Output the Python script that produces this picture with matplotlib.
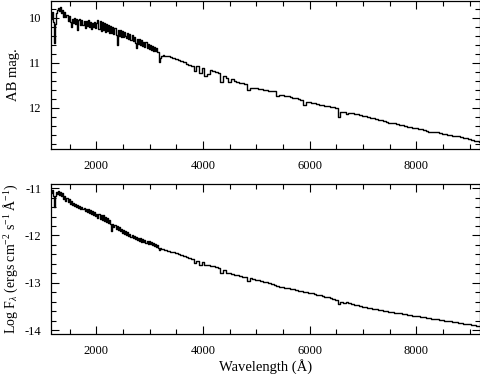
import numpy as np
import matplotlib
matplotlib.use("Agg")
import matplotlib.pyplot as plt
from matplotlib.ticker import MultipleLocator

plt.rcParams['font.family'] = ['Liberation Serif', 'DejaVu Serif']
plt.rcParams['mathtext.fontset'] = 'custom'
plt.rcParams['mathtext.rm'] = 'Liberation Serif'
plt.rcParams['mathtext.it'] = 'Liberation Serif:italic'
plt.rcParams['axes.unicode_minus'] = False

# ---------------- data ----------------
uv_wave = np.arange(1150, 3300, 20)        # UV sampling grid (Å)
opt_wave = np.arange(3300, 9201, 50)       # optical sampling grid (Å)

ab_mag_uv = [
    10.02, 9.88, 10.10, 10.56, 10.15, 9.90, 9.84, 9.78, 9.86, 9.77,
    9.90, 9.82, 9.99, 9.88, 9.98, 9.94, 10.08, 9.96, 10.10, 10.20,
    10.02, 10.12, 10.01, 10.15, 10.04, 10.27, 10.06, 10.04, 10.17, 10.05,
    10.16, 10.07, 10.23, 10.08, 10.18, 10.06, 10.20, 10.09, 10.26, 10.11,
    10.21, 10.10, 10.24, 10.12, 10.05, 10.25, 10.07, 10.30, 10.09, 10.28,
    10.12, 10.32, 10.14, 10.29, 10.16, 10.35, 10.19, 10.33, 10.21, 10.37,
    10.24, 10.39, 10.60, 10.27, 10.40, 10.27, 10.42, 10.30, 10.44, 10.32,
    10.41, 10.46, 10.33, 10.48, 10.36, 10.50, 10.38, 10.52, 10.42, 10.56,
    10.67, 10.47, 10.58, 10.48, 10.61, 10.50, 10.63, 10.53, 10.66, 10.55,
    10.68, 10.58, 10.70, 10.60, 10.71, 10.63, 10.73, 10.66, 10.74, 10.68,
    10.76, 10.76, 10.98, 10.90, 10.86, 10.84, 10.86, 10.85,
]

ab_mag_opt = [
    10.85, 10.86, 10.88, 10.90, 10.92, 10.95, 10.96, 10.99, 11.03, 11.06,
    11.07, 11.18, 11.08, 11.22, 11.12, 11.30, 11.26, 11.16, 11.18, 11.20,
    11.22, 11.44, 11.30, 11.35, 11.44, 11.37, 11.40, 11.44, 11.46, 11.45,
    11.47, 11.60, 11.56, 11.57, 11.57, 11.58, 11.59, 11.60, 11.61, 11.62,
    11.63, 11.64, 11.75, 11.71, 11.72, 11.73, 11.75, 11.76, 11.78, 11.79,
    11.81, 11.83, 11.93, 11.87, 11.88, 11.89, 11.90, 11.92, 11.93, 11.95,
    11.96, 11.97, 11.98, 11.99, 12.01, 12.20, 12.10, 12.09, 12.15, 12.11,
    12.12, 12.13, 12.14, 12.16, 12.18, 12.19, 12.21, 12.22, 12.24, 12.25,
    12.27, 12.28, 12.30, 12.31, 12.33, 12.34, 12.35, 12.37, 12.38, 12.39,
    12.41, 12.42, 12.43, 12.45, 12.46, 12.47, 12.48, 12.50, 12.51, 12.53,
    12.53, 12.54, 12.55, 12.57, 12.58, 12.59, 12.60, 12.61, 12.62, 12.63,
    12.64, 12.65, 12.67, 12.68, 12.69, 12.71, 12.73, 12.75, 12.76,
]

logf_uv = [
    -11.10, -11.04, -11.17, -11.40, -11.16, -11.08, -11.13, -11.06, -11.14, -11.09,
    -11.17, -11.11, -11.22, -11.17, -11.26, -11.20, -11.29, -11.23, -11.33, -11.27,
    -11.35, -11.32, -11.37, -11.34, -11.39, -11.35, -11.42, -11.37, -11.44, -11.40,
    -11.45, -11.41, -11.48, -11.44, -11.50, -11.45, -11.52, -11.47, -11.54, -11.49,
    -11.56, -11.51, -11.59, -11.55, -11.62, -11.54, -11.65, -11.57, -11.67, -11.56,
    -11.69, -11.60, -11.71, -11.63, -11.73, -11.68, -11.76, -11.90, -11.75, -11.82,
    -11.77, -11.86, -11.80, -11.88, -11.83, -11.91, -11.86, -11.94, -11.88, -11.96,
    -11.91, -11.99, -11.93, -12.01, -11.96, -12.03, -11.98, -12.06, -12.01, -12.08,
    -12.03, -12.10, -12.05, -12.11, -12.06, -12.13, -12.08, -12.14, -12.09, -12.16,
    -12.11, -12.17, -12.12, -12.19, -12.14, -12.21, -12.16, -12.23, -12.18, -12.25,
    -12.20, -12.27, -12.31, -12.26, -12.29, -12.28, -12.31, -12.30,
]

logf_opt = [
    -12.31, -12.33, -12.34, -12.35, -12.37, -12.39, -12.42, -12.43, -12.45, -12.48,
    -12.50, -12.58, -12.53, -12.62, -12.57, -12.63, -12.62, -12.64, -12.65, -12.66,
    -12.68, -12.79, -12.74, -12.79, -12.80, -12.81, -12.83, -12.84, -12.86, -12.87,
    -12.88, -12.96, -12.91, -12.92, -12.94, -12.95, -12.97, -12.98, -12.99, -13.01,
    -13.02, -13.04, -13.07, -13.08, -13.10, -13.11, -13.12, -13.13, -13.14, -13.15,
    -13.17, -13.18, -13.20, -13.20, -13.21, -13.22, -13.23, -13.25, -13.26, -13.28,
    -13.30, -13.31, -13.32, -13.34, -13.36, -13.44, -13.40, -13.42, -13.41, -13.43,
    -13.45, -13.47, -13.48, -13.49, -13.51, -13.52, -13.53, -13.54, -13.55, -13.56,
    -13.57, -13.58, -13.59, -13.60, -13.61, -13.62, -13.63, -13.64, -13.65, -13.66,
    -13.67, -13.68, -13.69, -13.70, -13.70, -13.71, -13.72, -13.73, -13.74, -13.75,
    -13.76, -13.77, -13.77, -13.78, -13.79, -13.80, -13.81, -13.82, -13.83, -13.84,
    -13.85, -13.86, -13.87, -13.88, -13.88, -13.89, -13.90, -13.91, -13.92,
]

wave = np.concatenate([uv_wave, opt_wave])
ab_mag = np.array(ab_mag_uv + ab_mag_opt)
logf = np.array(logf_uv + logf_opt)

# ---------------- figure ----------------
W, H = 481, 374
fig = plt.figure(figsize=(W / 100, H / 100), dpi=100)

def px_axes(x0, y0, x1, y1):
    return fig.add_axes([x0 / W, 1 - y1 / H, (x1 - x0) / W, (y1 - y0) / H])

ax1 = px_axes(51, 0.5, 480.5, 149)
ax2 = px_axes(51, 183.5, 480.5, 333.5)

ax1.plot(wave, ab_mag, color='black', lw=1.0, drawstyle='steps-mid')
ax2.plot(wave, logf, color='black', lw=1.0, drawstyle='steps-mid')

ax1.set_ylim(12.918, 9.618)
ax2.set_ylim(-14.074, -10.90)

for ax in (ax1, ax2):
    ax.set_xlim(1150, 9200)
    ax.xaxis.set_major_locator(MultipleLocator(2000))
    ax.xaxis.set_minor_locator(MultipleLocator(500))
    ax.yaxis.set_major_locator(MultipleLocator(1))
    ax.yaxis.set_minor_locator(MultipleLocator(0.2))
    ax.tick_params(which='both', direction='in', top=True, right=True,
                   width=0.8, labelsize=9, colors='black')
    ax.tick_params(which='major', length=6)
    ax.tick_params(which='minor', length=3.5)
    ax.tick_params(axis='x', which='major', pad=8)
    ax.tick_params(axis='y', which='major', pad=7)
    for s in ax.spines.values():
        s.set_linewidth(0.9)
        s.set_color('black')

ax1.set_ylabel('AB mag.', fontsize=10.5, labelpad=6)
ax2.set_ylabel(r'Log F$_{\lambda}$ (ergs cm$^{-2}$ s$^{-1}$ Å$^{-1}$)', fontsize=10, labelpad=3)
ax2.set_xlabel('Wavelength (Å)', fontsize=10.5, labelpad=2)

fig.savefig('out.png', dpi=100)
